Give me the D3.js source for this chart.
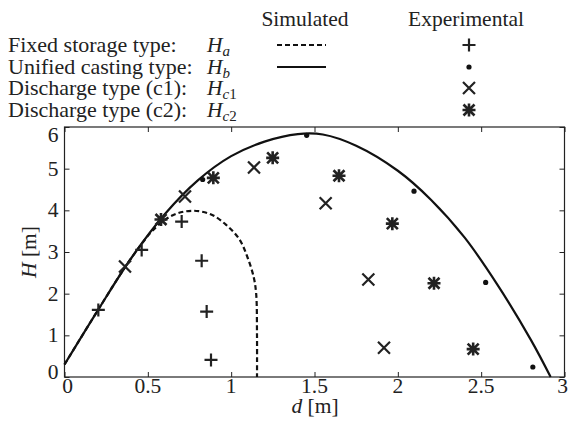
<!DOCTYPE html>
<html>
<head>
<meta charset="utf-8">
<script src="https://cdn.jsdelivr.net/npm/d3@7"></script>
<style>
  body { margin: 0; background: #fff; }
  svg { font-family: "Liberation Serif", "DejaVu Serif", serif; }
</style>
</head>
<body>
<div id="main"></div>
<script>
// Curvas simuladas
var simHa = [[0, 0.3], [0.2, 1.6], [0.4, 2.85], [0.55, 3.6], [0.66, 3.9], [0.77, 3.99], [0.88, 3.9],
  [0.97, 3.65], [1.05, 3.3], [1.10, 2.85], [1.135, 2.4], [1.15, 2.0], [1.155, 1.0], [1.155, 0]];
var simHb = [[0, 0.3], [0.2, 1.6], [0.4, 2.85], [0.6, 3.9], [0.8, 4.72], [1.0, 5.3], [1.2, 5.65],
  [1.4, 5.83], [1.55, 5.82], [1.75, 5.55], [2.0, 4.95], [2.2, 4.25], [2.4, 3.35], [2.6, 2.2],
  [2.8, 0.88], [2.917, 0]];

// Puntos experimentales
var expHa = [[0.203, 1.61], [0.463, 3.05], [0.703, 3.73], [0.823, 2.79], [0.853, 1.57], [0.879, 0.41]];
var expHb = [[0.829, 4.74], [1.453, 5.8], [2.097, 4.46], [2.527, 2.27], [2.81, 0.24]];
var expHc1 = [[0.363, 2.65], [0.723, 4.33], [1.137, 5.03], [1.567, 4.17], [1.823, 2.34], [1.917, 0.70]];
var expHc2 = [[0.579, 3.78], [0.893, 4.78], [1.249, 5.26], [1.647, 4.83], [1.967, 3.68], [2.217, 2.25], [2.452, 0.67]];

var xTicks = [0, 0.5, 1, 1.5, 2, 2.5, 3];
var yTicks = [0, 1, 2, 3, 4, 5, 6];

var legendRows = [
  { label: "Fixed storage type:", sub: "a", num: "", line: "dash", marker: "plus" },
  { label: "Unified casting type:", sub: "b", num: "", line: "solid", marker: "dot" },
  { label: "Discharge type (c1):", sub: "c", num: "1", line: null, marker: "cross" },
  { label: "Discharge type (c2):", sub: "c", num: "2", line: null, marker: "star" }
];

var width = 568, height = 421;
var mLeft = 64.5, mRight = 564.5, mTop = 127, mBottom = 377;
var fs = 21.5;

var svg = d3.select("#main").append("svg")
  .attr("width", width).attr("height", height);

var x = d3.scaleLinear().domain([0, 3]).range([mLeft, mRight]);
var y = d3.scaleLinear().domain([0, 6]).range([mBottom, mTop]);

// Marco y marcas
svg.append("rect")
  .attr("x", mLeft).attr("y", mTop)
  .attr("width", mRight - mLeft).attr("height", mBottom - mTop)
  .attr("fill", "none").attr("stroke", "#222").attr("stroke-width", 1.2);

svg.append("g").attr("transform", "translate(0," + mBottom + ")")
  .call(d3.axisBottom(x).tickValues(xTicks).tickSize(-5).tickFormat(""))
  .call(function(g) { g.select(".domain").remove(); });
svg.append("g").attr("transform", "translate(0," + mTop + ")")
  .call(d3.axisTop(x).tickValues(xTicks).tickSize(-5).tickFormat(""))
  .call(function(g) { g.select(".domain").remove(); });
svg.append("g").attr("transform", "translate(" + mLeft + ",0)")
  .call(d3.axisLeft(y).tickValues(yTicks).tickSize(-5).tickFormat(""))
  .call(function(g) { g.select(".domain").remove(); });
svg.append("g").attr("transform", "translate(" + mRight + ",0)")
  .call(d3.axisRight(y).tickValues(yTicks).tickSize(-5).tickFormat(""))
  .call(function(g) { g.select(".domain").remove(); });
svg.selectAll(".tick line").attr("stroke", "#222");

// Etiquetas de los ejes
svg.selectAll("text.xt").data(xTicks).enter().append("text")
  .attr("x", function(d) { return x(d) + (d === 0 ? 3 : d === 3 ? -2 : 0); })
  .attr("y", mBottom + 16)
  .attr("text-anchor", "middle").attr("font-size", fs).attr("fill", "#222")
  .text(function(d) { return d; });
svg.selectAll("text.yt").data(yTicks).enter().append("text")
  .attr("x", mLeft - 6)
  .attr("y", function(d) { return y(d) + (d === 6 ? 15 : d === 0 ? 2 : 7); })
  .attr("text-anchor", "end").attr("font-size", fs).attr("fill", "#222")
  .text(function(d) { return d; });

var xl = svg.append("text").attr("x", 315).attr("y", 413)
  .attr("text-anchor", "middle").attr("font-size", fs).attr("fill", "#222");
xl.append("tspan").attr("font-style", "italic").text("d");
xl.append("tspan").text(" [m]");

var yl = svg.append("text")
  .attr("transform", "translate(36," + y(3) + ") rotate(-90)")
  .attr("text-anchor", "middle").attr("font-size", fs).attr("fill", "#222");
yl.append("tspan").attr("font-style", "italic").text("H");
yl.append("tspan").text(" [m]");

// Curvas simuladas
var line = d3.line()
  .x(function(d) { return x(d[0]); })
  .y(function(d) { return y(d[1]); })
  .curve(d3.curveCatmullRom.alpha(0.5));

svg.append("path").datum(simHb).attr("d", line)
  .attr("fill", "none").attr("stroke", "#111").attr("stroke-width", 2.2);
svg.append("path").datum(simHa).attr("d", line)
  .attr("fill", "none").attr("stroke", "#111").attr("stroke-width", 2.2)
  .attr("stroke-dasharray", "5 3");

// Marcadores
function marker(g, type, cx, cy) {
  if (type === "plus") {
    g.append("path").attr("d", "M" + (cx - 6.5) + "," + cy + "H" + (cx + 6.5) + "M" + cx + "," + (cy - 6.5) + "V" + (cy + 6.5))
      .attr("stroke", "#222").attr("stroke-width", 2.2).attr("fill", "none");
  } else if (type === "dot") {
    g.append("circle").attr("cx", cx).attr("cy", cy).attr("r", 2.6).attr("fill", "#111");
  } else if (type === "cross") {
    g.append("path").attr("d", "M" + (cx - 6) + "," + (cy - 6) + "L" + (cx + 6) + "," + (cy + 6) +
      "M" + (cx - 6) + "," + (cy + 6) + "L" + (cx + 6) + "," + (cy - 6))
      .attr("stroke", "#222").attr("stroke-width", 2.2).attr("fill", "none");
  } else if (type === "star") {
    g.append("path").attr("d", "M" + (cx - 6.5) + "," + cy + "H" + (cx + 6.5) + "M" + cx + "," + (cy - 6.5) + "V" + (cy + 6.5) +
      "M" + (cx - 5.5) + "," + (cy - 5.5) + "L" + (cx + 5.5) + "," + (cy + 5.5) +
      "M" + (cx - 5.5) + "," + (cy + 5.5) + "L" + (cx + 5.5) + "," + (cy - 5.5))
      .attr("stroke", "#222").attr("stroke-width", 2.6).attr("fill", "none");
  }
}

var series = [[expHa, "plus"], [expHb, "dot"], [expHc1, "cross"], [expHc2, "star"]];
var gm = svg.append("g");
series.forEach(function(s) {
  s[0].forEach(function(p) { marker(gm, s[1], x(p[0]), y(p[1])); });
});

// Leyenda
svg.append("text").attr("x", 305).attr("y", 26).attr("text-anchor", "middle")
  .attr("font-size", fs).attr("fill", "#222").text("Simulated");
svg.append("text").attr("x", 466).attr("y", 26).attr("text-anchor", "middle")
  .attr("font-size", fs).attr("fill", "#222").text("Experimental");

var rowY = [45, 67, 88, 110];
legendRows.forEach(function(r, i) {
  var cy = rowY[i];
  svg.append("text").attr("x", 8).attr("y", cy + 7)
    .attr("font-size", 22).attr("fill", "#222").text(r.label);
  var t = svg.append("text").attr("x", 207).attr("y", cy + 7)
    .attr("font-size", fs).attr("fill", "#222").attr("font-style", "italic");
  t.append("tspan").text("H");
  t.append("tspan").attr("font-size", 15).attr("dy", 4).text(r.sub);
  if (r.num) t.append("tspan").attr("font-size", 15).attr("font-style", "normal").text(r.num);
  if (r.line) {
    svg.append("line").attr("x1", 277).attr("x2", 326).attr("y1", cy).attr("y2", cy)
      .attr("stroke", "#111").attr("stroke-width", 2.2)
      .attr("stroke-dasharray", r.line === "dash" ? "5 3" : null);
  }
  marker(svg, r.marker, 469, cy);
});
</script>
</body>
</html>
